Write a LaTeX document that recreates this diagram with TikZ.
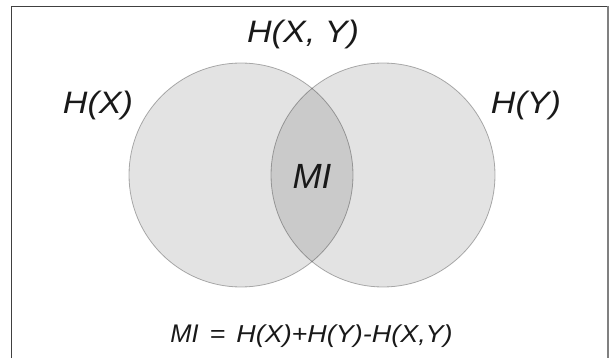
\documentclass[tikz,border=0pt]{standalone}
\usepackage{fontspec}
\newfontfamily\entfont[FakeStretch=1.1]{Liberation Sans}
\newfontfamily\mifont{Liberation Sans}
\usetikzlibrary{positioning}

\begin{document}
\begin{tikzpicture}[
        x = 1pt, y = -1pt,
        setcircle/.style = {circle, minimum size=224pt, inner sep=0, fill=black, fill opacity=0.11, draw=black, draw opacity=0.3, line width=0.8pt},
        entlabel/.style = {anchor=base, inner sep=0, text=black!90, font=\entfont\itshape\fontsize{31}{34}\selectfont},
        milabel/.style = {anchor=base, inner sep=0, text=black!90, font=\mifont\itshape\fontsize{35}{38}\selectfont},
        eqlabel/.style = {anchor=base, inner sep=0, text=black!90, font=\entfont\itshape\fontsize{24.5}{27}\selectfont},
        frame/.style = {line width=1.4pt},
    ]
        \useasboundingbox (0,0) rectangle (609,358);
        % open frame
        \draw[frame, draw=black!75] (11.5,358) |- (608,6.5);
        \draw[frame, draw=black!50] (608,6.5) -- (608,358);
        % the two sets
        \node[setcircle] (cx) at (241,175) {};
        \node[setcircle] (cy) at (383,175) {};
        % labels
        \node[entlabel] (hxy) at (303,43) {H(X, Y)};
        \node[entlabel] (hx) at (98,114) {H(X)};
        \node[entlabel] (hy) at (526,114) {H(Y)};
        \node[milabel] (mi) at (312,188) {MI};
        \node[eqlabel] (formula) at (311.5,342) {{\mifont\fontsize{25.5}{28}\selectfont MI}\hspace*{11pt}=\hspace*{11pt}H(X)+H(Y)-H(X,Y)};
    \end{tikzpicture}
\end{document}
